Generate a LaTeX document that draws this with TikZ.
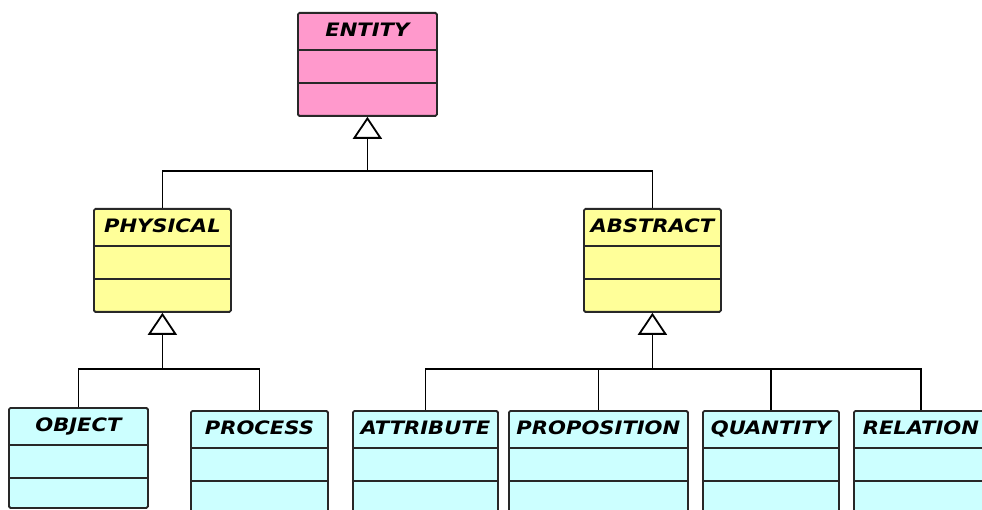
\documentclass[tikz,border=0pt]{standalone}
\usepackage{fontspec}
\newfontfamily\classfont{DejaVu Sans}[FakeStretch=1.14]
\usetikzlibrary{arrows.meta, positioning, calc}
\definecolor{rootpink}{RGB}{255,153,204}
\definecolor{midyellow}{RGB}{255,255,153}
\definecolor{leafcyan}{RGB}{204,255,255}
\definecolor{edge}{RGB}{40,40,40}

\begin{document}
\begin{tikzpicture}[x=1pt, y=-1pt,
            cls/.style={draw=edge, line width=1.8pt, rounded corners=1.5pt,
                anchor=north west, inner sep=0pt,
                text height=24pt, text depth=79pt,
                font=\fontsize{18.5}{20}\classfont\bfseries\itshape\selectfont,
                path picture={
                    \draw[edge, line width=1.6pt]
                        ([yshift=-37pt]path picture bounding box.north west) --
                        ([yshift=-37pt]path picture bounding box.north east);
                    \draw[edge, line width=1.6pt]
                        ([yshift=-70pt]path picture bounding box.north west) --
                        ([yshift=-70pt]path picture bounding box.north east);
                }},
            root/.style={cls, fill=rootpink},
            mid/.style={cls, fill=midyellow},
            leaf/.style={cls, fill=leafcyan},
            bus/.style={line width=1.8pt, black},
            gen/.style={bus, -{Triangle[open, fill=white, length=22pt, width=29pt]}},
        ]
            \clip (0,0) rectangle (982,510);

            % Root class
            \node[root, minimum width=139pt] (entity) at (297,12) {ENTITY};

            % Second level
            \node[mid, minimum width=137pt] (physical) at (93,208) {PHYSICAL};
            \node[mid, minimum width=137pt] (abstract) at (583,208) {ABSTRACT};

            % Leaves
            \node[leaf, minimum width=139pt, text depth=76pt] (object) at (8,407) {OBJECT};
            \node[leaf, minimum width=137pt] (process) at (190,410) {PROCESS};
            \node[leaf, minimum width=145pt] (attribute) at (352,410) {ATTRIBUTE};
            \node[leaf, minimum width=179pt] (proposition) at (508,410) {PROPOSITION};
            \node[leaf, minimum width=136pt] (quantity) at (702,410) {QUANTITY};
            \node[leaf, minimum width=134pt] (relation) at (853,410) {RELATION};

            % Generalisation: ENTITY
            \coordinate (entbus) at (entity.south |- 0,171);
            \draw[bus] (physical.north) |- (entbus) -| (abstract.north);
            \draw[gen] (entbus) -- (entity.south);

            % Generalisation: PHYSICAL
            \coordinate (physbus) at (physical.south |- 0,369);
            \draw[bus] (object.north) |- (physbus) -| (process.north);
            \draw[gen] (physbus) -- (physical.south);

            % Generalisation: ABSTRACT
            \coordinate (absbus) at (abstract.south |- 0,369);
            \draw[bus] (attribute.north) |- (absbus) -| (relation.north);
            \draw[bus] (proposition.north) -- (proposition.north |- absbus);
            \draw[bus] (quantity.north) -- (quantity.north |- absbus);
            \draw[gen] (absbus) -- (abstract.south);
        \end{tikzpicture}
\end{document}
